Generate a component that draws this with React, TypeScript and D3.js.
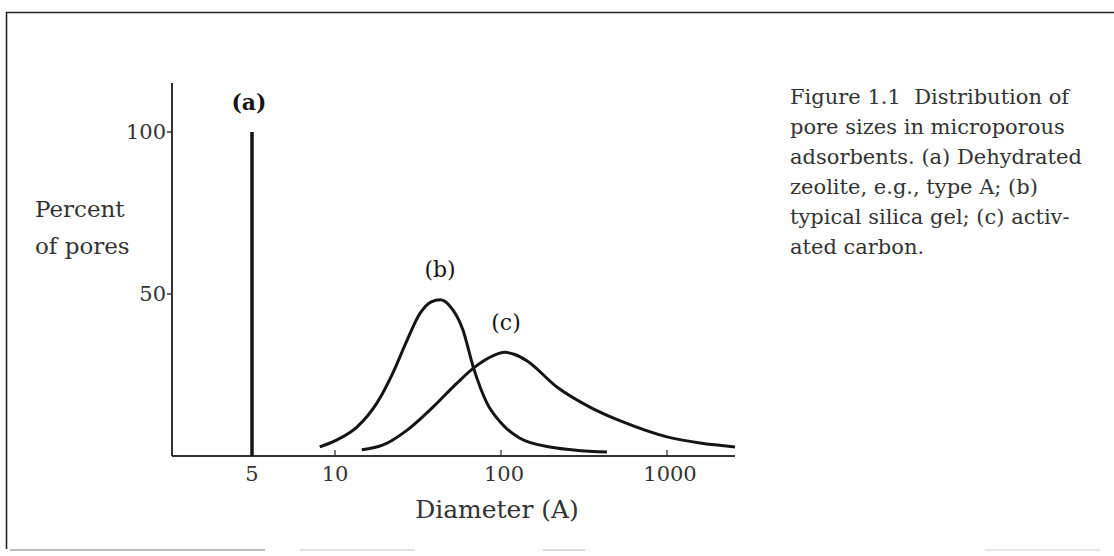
import React from 'react';
import {scaleLinear, line, curveMonotoneX} from 'd3';

// tick labels on the two axes
const xTicks = [5, 10, 100, 1000];
const yTicks = [50, 100];

// (a) dehydrated zeolite: a single spike
const aDiameter = 5;
const aPercent = 100;

// (b) silica gel
const bDiameter = [8.8, 10.2, 13.6, 17.9, 22.3, 27.2, 32.5, 38, 43, 49, 59, 68, 82, 99, 109, 130, 197, 435];
const bPercent = [2.8, 4.9, 9, 16.4, 25.6, 35.8, 44, 47.6, 48.2, 46.4, 38.9, 27.5, 16.5, 10.5, 8.3, 5.5, 2.8, 1.2];

// (c) activated carbon
const cDiameter = [14.5, 19.5, 27.2, 38.9, 54.3, 69.7, 90, 105, 120, 143, 217, 343, 543, 1000, 1580, 2570];
const cPercent = [1.9, 3.4, 8, 15.1, 22.5, 27.5, 31, 32, 31.4, 29.4, 21.3, 15.1, 10.5, 5.9, 4, 2.8];

const captionLines = [
    'Figure 1.1\u00a0 Distribution of',
    'pore sizes in microporous',
    'adsorbents. (a) Dehydrated',
    'zeolite, e.g., type A; (b)',
    'typical silica gel; (c) activ-',
    'ated carbon.',
];

const W = 1114;
const H = 556;
const serif = '"DejaVu Serif", "Liberation Serif", serif';
const ink = '#151515';
const grey = '#333';

const App = (): JSX.Element => {
    // the scan's x axis is roughly logarithmic, but the 5 tick is placed on its own
    const xScale = scaleLinear()
        .domain([Math.log10(5), 1, 2, 3])
        .range([252, 335, 501, 667]);
    const x = (d: number) => xScale(Math.log10(d));
    const yScale = scaleLinear().domain([0, 100]).range([456, 132]);

    const axisLeft = 172;
    const axisRight = 735;
    const axisTop = 83;
    const base = yScale(0);

    const curve = line<[number, number]>()
        .x(p => x(p[0]))
        .y(p => yScale(p[1]))
        .curve(curveMonotoneX);

    const bPath = curve(bDiameter.map((d, i) => [d, bPercent[i]]));
    const cPath = curve(cDiameter.map((d, i) => [d, cPercent[i]]));

    return (
        <svg width={W} height={H} viewBox={`0 0 ${W} ${H}`}
             style={{position: 'absolute', left: 0, top: 0, background: '#fff'}}>
            {/* frame of the scanned page */}
            <line x1={6} y1={12.5} x2={W} y2={12.5} stroke="#222" strokeWidth={1.6}/>
            <line x1={6.5} y1={12} x2={6.5} y2={549} stroke="#222" strokeWidth={1.6}/>
            <line x1={10} y1={550} x2={265} y2={550} stroke="#bbb" strokeWidth={2}/>
            <line x1={300} y1={550} x2={415} y2={550} stroke="#e2e2e2" strokeWidth={2}/>
            <line x1={543} y1={550} x2={585} y2={550} stroke="#ddd" strokeWidth={2}/>
            <line x1={985} y1={550} x2={1100} y2={550} stroke="#e6e6e6" strokeWidth={2}/>

            {/* axes */}
            <line x1={axisLeft} y1={axisTop} x2={axisLeft} y2={base} stroke={grey} strokeWidth={2}/>
            <line x1={axisLeft} y1={base} x2={axisRight} y2={base} stroke={grey} strokeWidth={2}/>
            {yTicks.map(t => (
                <g key={t}>
                    <line x1={axisLeft - 5} x2={axisLeft} y1={yScale(t)} y2={yScale(t)} stroke={grey} strokeWidth={1.5}/>
                    <text x={axisLeft - 6} y={yScale(t) + 7} textAnchor="end" fontFamily={serif}
                          fontSize={21} fill={grey}>{t}</text>
                </g>
            ))}
            {xTicks.map(t => (
                <g key={t}>
                    {t !== aDiameter &&
                        <line x1={x(t)} x2={x(t)} y1={base - 6} y2={base} stroke={grey} strokeWidth={1.3}/>}
                    <text x={x(t) + (t >= 100 ? 3 : 0)} y={base + 25} textAnchor="middle" fontFamily={serif}
                          fontSize={21} fill={grey}>{t}</text>
                </g>
            ))}

            {/* axis titles */}
            <text x={35} y={217} fontFamily={serif} fontSize={23} fill={grey}>Percent</text>
            <text x={35} y={254} fontFamily={serif} fontSize={23} fill={grey}>of pores</text>
            <text x={497} y={518} textAnchor="middle" fontFamily={serif} fontSize={25} fill={grey}>Diameter (A)</text>

            {/* series */}
            <line x1={x(aDiameter)} x2={x(aDiameter)} y1={yScale(0)} y2={yScale(aPercent)} stroke={ink} strokeWidth={3.5}/>
            <path d={bPath ?? ''} fill="none" stroke={ink} strokeWidth={3}/>
            <path d={cPath ?? ''} fill="none" stroke={ink} strokeWidth={3}/>

            <text x={249} y={110} textAnchor="middle" fontFamily={serif} fontSize={22} fontWeight="bold" fill={ink}>(a)</text>
            <text x={440} y={277} textAnchor="middle" fontFamily={serif} fontSize={22} fill={ink}>(b)</text>
            <text x={506} y={330} textAnchor="middle" fontFamily={serif} fontSize={22} fill={ink}>(c)</text>

            {/* caption */}
            {captionLines.map((s, i) => (
                <text key={i} x={790} y={104 + i * 30} fontFamily={serif} fontSize={21} fill={grey}>{s}</text>
            ))}
        </svg>
    );
};

export default App;
